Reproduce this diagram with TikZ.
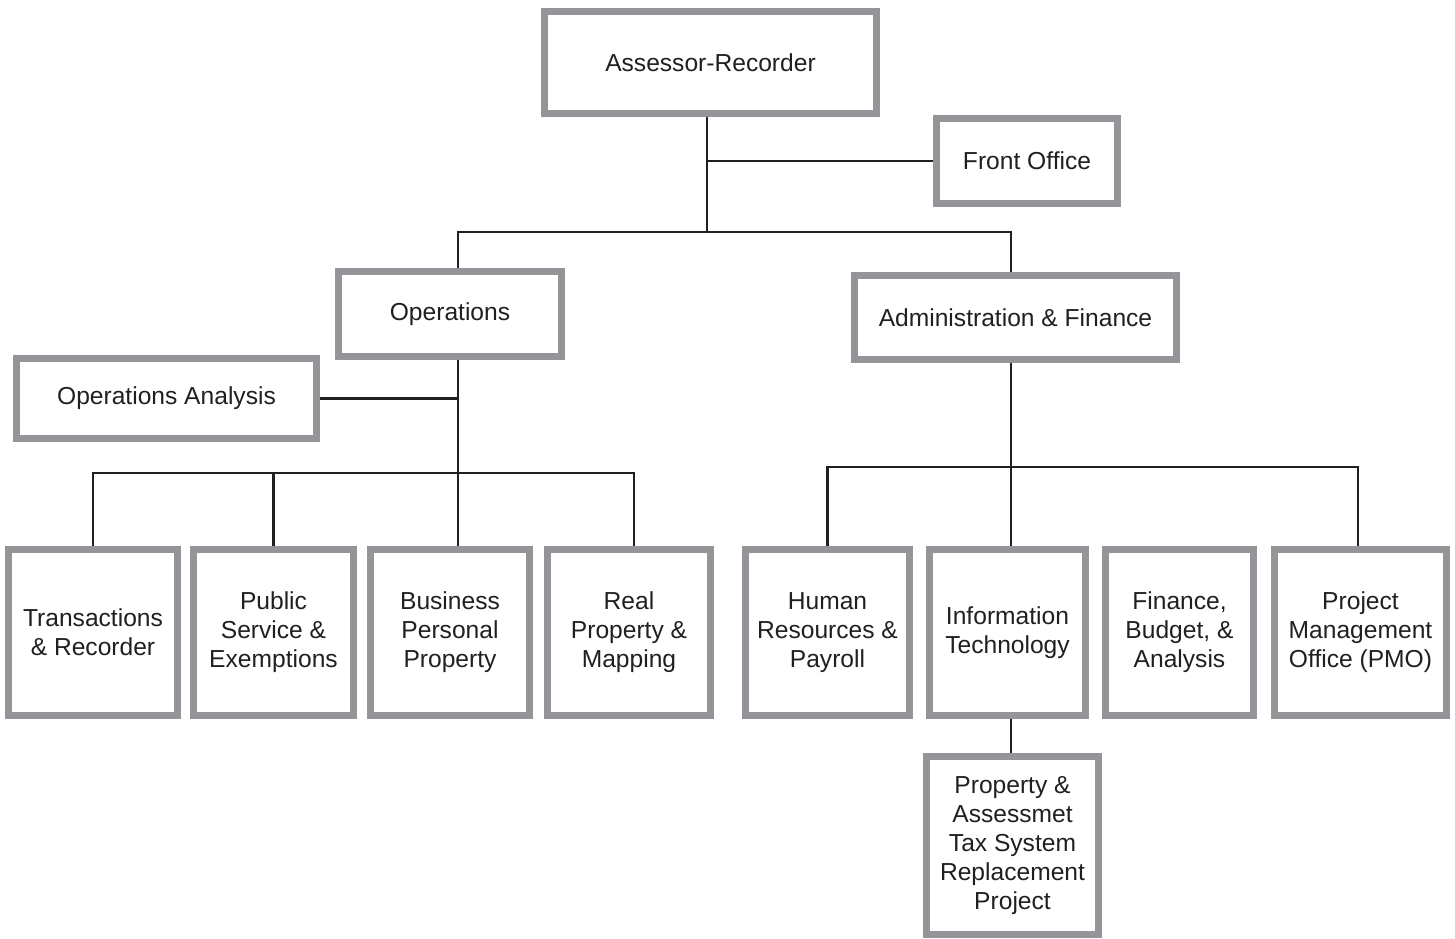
\documentclass[tikz,border=0pt]{standalone}
\usepackage{fontspec}
\setmainfont{Liberation Sans}
\usepackage{xcolor}
\usetikzlibrary{calc}

\definecolor{frameGray}{RGB}{147,149,152}
\definecolor{inkDark}{RGB}{35,31,32}

\begin{document}
\begin{tikzpicture}[
  x=0.02cm, y=-0.02cm,
  orgBox/.style={draw=frameGray, line width=0.14cm, fill=white, text=inkDark,
    font=\fontsize{14}{16.5}\selectfont, align=center, inner sep=0pt},
  lowBox/.style={orgBox, minimum height=3.32cm},
  link/.style={draw=inkDark, line width=0.045cm},
]
\useasboundingbox (0,0) rectangle (1455,938);

% --- top of the chart ---
\node[orgBox, minimum width=6.64cm, minimum height=2.04cm] (ar) at (710.5, 62.5) {Assessor-Recorder};
\node[orgBox, minimum width=3.62cm, minimum height=1.70cm] (fo) at (1027, 161) {Front Office};

\node[orgBox, minimum width=4.46cm, minimum height=1.70cm] (ops) at (450, 314) {Operations};
\node[orgBox, minimum width=6.44cm, minimum height=1.68cm] (af) at (1015.5, 317.5) {Administration \& Finance};
\node[orgBox, minimum width=6.00cm, minimum height=1.60cm] (oa) at (166.5, 398.5) {Operations Analysis};

% --- operations units ---
\node[lowBox, minimum width=3.38cm] (tr) at (93, 632.5) {Transactions\\\& Recorder};
\node[lowBox, minimum width=3.20cm] (ps) at (273.5, 632.5) {Public\\Service \&\\Exemptions};
\node[lowBox, minimum width=3.18cm] (bp) at (450, 632.5) {Business\\Personal\\Property};
\node[lowBox, minimum width=3.26cm] (rp) at (629, 632.5) {Real\\Property \&\\Mapping};

% --- administration units ---
\node[lowBox, minimum width=3.28cm] (hr) at (827.5, 632.5) {Human\\Resources \&\\Payroll};
\node[lowBox, minimum width=3.12cm] (it) at (1007.5, 632.5) {Information\\Technology};
\node[lowBox, minimum width=2.96cm] (fb) at (1179.5, 632.5) {Finance,\\Budget, \&\\Analysis};
\node[lowBox, minimum width=3.44cm] (pmo) at (1360.5, 632.5) {Project\\Management\\Office (PMO)};

\node[orgBox, minimum width=3.44cm, minimum height=3.56cm] (pa) at (1012.5, 845.5) {Property \&\\Assessmet\\Tax System\\Replacement\\Project};

% junctions
\coordinate (topJ) at (707, 232);
\coordinate (opsJ) at (458, 473);
\coordinate (afJ) at (1011, 467);

% connectors
\draw[link] (ar.south -| topJ) -- (topJ);
\draw[link] (topJ |- fo.west) -- (fo.west);
\draw[link] (ops.north -| opsJ) |- (topJ) -| (af.north -| afJ);

\draw[link] (ops.south -| opsJ) -- (opsJ);
\draw[link] (opsJ |- oa.east) -- (oa.east);
\draw[link] (tr.north) |- (opsJ) -| ([xshift=0.1cm]rp.north);
\draw[link] (ps.north) -- (ps.north |- opsJ);
\draw[link] (bp.north -| opsJ) -- (opsJ);

\draw[link] (af.south -| afJ) -- (it.north -| afJ);
\draw[link] (hr.north) |- (afJ) -| ([xshift=-0.05cm]pmo.north);
\draw[link] (it.south -| afJ) -- (pa.north -| afJ);

\end{tikzpicture}
\end{document}
